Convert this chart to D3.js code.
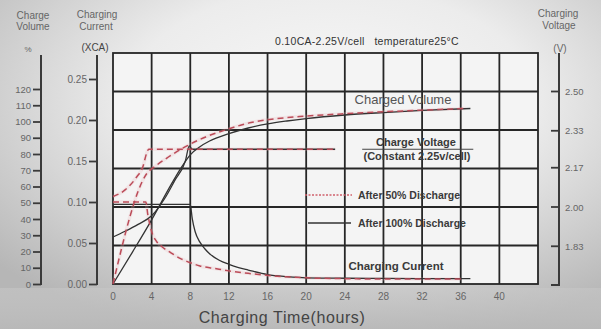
<!DOCTYPE html>
<html>
<head>
<meta charset="utf-8">
<script src="https://cdn.jsdelivr.net/npm/d3@7"></script>
<style>
  html, body { margin: 0; padding: 0; background: #e4e4e4; }
  svg { display: block; font-family: "Liberation Sans", Arial, sans-serif; }
</style>
</head>
<body>
<svg id="chart" width="601" height="329"></svg>
<script>
// values
const hourTicks = [0, 4, 8, 12, 16, 20, 24, 28, 32, 36, 40];
const volumeTicks = [0, 10, 20, 30, 40, 50, 60, 70, 80, 90, 100, 110, 120];
const currentTicks = [0, 0.05, 0.10, 0.15, 0.20, 0.25];
const voltageTicks = [1.83, 2.00, 2.17, 2.33, 2.50];

// after 100% discharge (solid)
const volHours100 = [0, 2, 4, 6, 7, 8, 9, 10, 12, 14, 16, 18, 20, 24, 28, 32, 37];
const volume100 = [0, 19.5, 39.5, 61, 71, 79.5, 84.5, 88, 92.5, 96, 98.5, 100.3, 101.8, 104, 105.5, 106.8, 108];
const voltHours100 = [0, 1.25, 2.6, 4, 5.4, 6.4, 7.5, 7.9, 8.2, 12, 16, 20, 23];
const voltage100 = [1.87, 1.895, 1.925, 1.962, 2.04, 2.115, 2.20, 2.265, 2.25, 2.25, 2.25, 2.25, 2.25];
const curHours100 = [0, 8, 8.2, 8.5, 9, 9.5, 10, 11, 12, 13, 14, 16, 18, 20, 24, 28, 32, 37];
const current100 = [0.097, 0.097, 0.08, 0.064, 0.051, 0.043, 0.037, 0.029, 0.024, 0.02, 0.017, 0.0115, 0.009, 0.0075, 0.007, 0.0068, 0.0066, 0.0065];

// after 50% discharge (dashed)
const volHours50 = [0, 3.5, 4.5, 5.7, 7.5, 9.6, 12, 14, 17, 20, 24, 28, 32, 36.5];
const volume50 = [0, 68, 73, 78, 84.5, 90.5, 95.5, 99, 101.8, 103.3, 104.8, 106, 107, 108];
const voltHours50 = [0, 1.25, 2.45, 3.1, 3.5, 3.7, 8, 12, 16, 20, 23];
const voltage50 = [2.045, 2.074, 2.13, 2.175, 2.235, 2.25, 2.25, 2.25, 2.25, 2.25, 2.25];
const curHours50 = [0, 3.4, 3.6, 4, 4.5, 5, 6, 7, 8, 9, 10.5, 12, 14, 17, 20, 24, 28, 32, 36];
const current50 = [0.10, 0.10, 0.085, 0.064, 0.052, 0.046, 0.038, 0.031, 0.026, 0.022, 0.019, 0.016, 0.013, 0.0095, 0.0075, 0.0065, 0.006, 0.006, 0.006];

const svg = d3.select("#chart");

// background
const defs = svg.append("defs");
const bg = defs.append("radialGradient").attr("id", "bg")
    .attr("cx", "55%").attr("cy", "30%").attr("r", "75%");
bg.append("stop").attr("offset", "0%").attr("stop-color", "#f8f8f8");
bg.append("stop").attr("offset", "45%").attr("stop-color", "#ececec");
bg.append("stop").attr("offset", "100%").attr("stop-color", "#b6b6b6");
svg.append("rect").attr("width", 601).attr("height", 329).attr("fill", "url(#bg)");

const bottom = defs.append("linearGradient").attr("id", "bottom")
    .attr("x1", 0).attr("y1", 0).attr("x2", 0).attr("y2", 1);
bottom.append("stop").attr("offset", "0%").attr("stop-color", "#c9c9c9").attr("stop-opacity", 0.5);
bottom.append("stop").attr("offset", "100%").attr("stop-color", "#b9b9b9").attr("stop-opacity", 0.85);
svg.append("rect").attr("y", 288).attr("width", 601).attr("height", 41).attr("fill", "url(#bottom)");

// scales
const x = d3.scaleLinear().domain([0, 44]).range([113, 538]);
const yVol = d3.scaleLinear().domain([0, 120]).range([284, 89]);
const yCur = d3.scaleLinear().domain([0, 0.25]).range([284, 79]);
const yVolt = d3.scaleLinear().domain([5 / 3, 8 / 3]).range([284, 53]);

// plot area + grid
svg.append("rect")
    .attr("x", x(0)).attr("y", yVolt(8 / 3))
    .attr("width", x(44) - x(0)).attr("height", yVolt(5 / 3) - yVolt(8 / 3))
    .attr("fill", "#f4f4f4");

const grid = svg.append("g").attr("stroke", "#262626").attr("stroke-width", 1.8);
grid.selectAll(".vg").data(d3.range(4, 44, 4)).enter().append("line")
    .attr("x1", d => x(d)).attr("x2", d => x(d))
    .attr("y1", yVolt(8 / 3)).attr("y2", yVolt(5 / 3));
grid.selectAll(".hg").data(d3.range(1, 6).map(i => 5 / 3 + i / 6)).enter().append("line")
    .attr("x1", x(0)).attr("x2", x(44))
    .attr("y1", d => yVolt(d)).attr("y2", d => yVolt(d));
grid.append("rect")
    .attr("x", x(0)).attr("y", yVolt(8 / 3))
    .attr("width", x(44) - x(0)).attr("height", yVolt(5 / 3) - yVolt(8 / 3))
    .attr("fill", "none");

// curves
const zip = (ts, vs) => ts.map((t, i) => [t, vs[i]]);
const lineFor = yScale => d3.line()
    .x(d => x(d[0])).y(d => yScale(d[1]))
    .curve(d3.curveMonotoneX);

const curves = svg.append("g").attr("fill", "none");

const dashed = [
    [zip(volHours50, volume50), yVol],
    [zip(voltHours50, voltage50), yVolt],
    [zip(curHours50, current50), yCur]
];
const solid = [
    [zip(volHours100, volume100), yVol],
    [zip(voltHours100, voltage100), yVolt],
    [zip(curHours100, current100), yCur]
];

dashed.forEach(([pts, ys]) => {
    curves.append("path").attr("d", lineFor(ys)(pts))
        .attr("stroke", "#eab0b8").attr("stroke-width", 3.5).attr("stroke-opacity", 0.22);
});
solid.forEach(([pts, ys]) => {
    curves.append("path").attr("d", lineFor(ys)(pts))
        .attr("stroke", "#333").attr("stroke-width", 1.3);
});
dashed.forEach(([pts, ys]) => {
    curves.append("path").attr("d", lineFor(ys)(pts))
        .attr("stroke", "#bb4b58").attr("stroke-width", 1.5)
        .attr("stroke-dasharray", "6,4");
});

// charge voltage label underline
svg.append("line")
    .attr("x1", x(25.8)).attr("x2", x(37.3))
    .attr("y1", yVolt(2.25)).attr("y2", yVolt(2.25))
    .attr("stroke", "#444").attr("stroke-width", 1);

// in-plot labels
const labels = svg.append("g").attr("text-anchor", "middle").attr("fill", "#3a3a3a");
labels.append("text").attr("x", 403).attr("y", 104)
    .attr("font-size", 13).attr("fill", "#555").text("Charged Volume");
labels.append("text").attr("x", 416).attr("y", 146)
    .attr("font-size", 11).attr("font-weight", "bold").text("Charge Voltage");
labels.append("text").attr("x", 417).attr("y", 160)
    .attr("font-size", 11).attr("font-weight", "bold").text("(Constant 2.25v/cell)");
labels.append("text").attr("x", 396).attr("y", 270)
    .attr("font-size", 11.5).attr("font-weight", "bold").text("Charging Current");

// legend
svg.append("line").attr("x1", 305).attr("x2", 352).attr("y1", 195).attr("y2", 195)
    .attr("stroke", "#d0606c").attr("stroke-width", 1.4).attr("stroke-dasharray", "2,1.5");
svg.append("line").attr("x1", 308).attr("x2", 351).attr("y1", 223).attr("y2", 223)
    .attr("stroke", "#333").attr("stroke-width", 1.3);
svg.append("text").attr("x", 358).attr("y", 199).attr("font-size", 10.5)
    .attr("font-weight", "bold").attr("fill", "#3a3a3a").text("After 50% Discharge");
svg.append("text").attr("x", 358).attr("y", 227).attr("font-size", 10.5)
    .attr("font-weight", "bold").attr("fill", "#3a3a3a").text("After 100% Discharge");

// title
svg.append("text").attr("x", 275).attr("y", 45).attr("font-size", 10.5)
    .attr("fill", "#333").attr("letter-spacing", 0.3)
    .text("0.10CA-2.25V/cell\u00a0\u00a0\u00a0temperature25\u00b0C");

// left axes
function leftAxis(xPos, scale, ticks, fmt, fontSize) {
    const g = svg.append("g").attr("transform", `translate(${xPos},0)`);
    g.call(d3.axisLeft(scale).tickValues(ticks).tickFormat(fmt)
        .tickSize(8).tickSizeOuter(0).tickPadding(2));
    g.select(".domain").remove();
    g.append("line").attr("x1", 0).attr("x2", 0).attr("y1", 55).attr("y2", 285)
        .attr("stroke", "#3a3a3a").attr("stroke-width", 2);
    g.selectAll(".tick line").attr("stroke", "#3a3a3a").attr("stroke-width", 1.8);
    g.selectAll(".tick text").attr("fill", "#666").attr("font-size", fontSize)
        .attr("font-family", "\"Liberation Sans\", Arial, sans-serif");
}
leftAxis(41, yVol, volumeTicks, d3.format("d"), 9.5);
leftAxis(97, yCur, currentTicks, d3.format(".2f"), 10);

// right voltage axis, ticks pointing in, labels outside
const right = svg.append("g").attr("stroke", "#3a3a3a").attr("stroke-width", 2);
right.append("path").attr("fill", "none")
    .attr("d", `M559,53 V285 H551`);
right.selectAll(".vt").data(voltageTicks).enter().append("line")
    .attr("x1", 551).attr("x2", 559)
    .attr("y1", d => yVolt(d)).attr("y2", d => yVolt(d)).attr("stroke-width", 1.8);
svg.selectAll(".vl").data(voltageTicks).enter().append("text")
    .attr("x", 565).attr("y", d => yVolt(d) + 3.5)
    .attr("font-size", 9.5).attr("fill", "#666")
    .text(d => d.toFixed(2));

// x tick labels
svg.selectAll(".xl").data(hourTicks).enter().append("text")
    .attr("x", d => x(d)).attr("y", 300).attr("text-anchor", "middle")
    .attr("font-size", 10).attr("fill", "#666").text(d => d);

svg.append("text").attr("x", 282).attr("y", 323).attr("text-anchor", "middle")
    .attr("font-size", 16).attr("letter-spacing", 0.6).attr("fill", "#444")
    .text("Charging Time(hours)");

// axis titles
const titles = svg.append("g").attr("text-anchor", "middle").attr("fill", "#666").attr("font-size", 10);
titles.append("text").attr("x", 33).attr("y", 19).text("Charge");
titles.append("text").attr("x", 33).attr("y", 30).text("Volume");
titles.append("text").attr("x", 28).attr("y", 52).attr("font-size", 8).text("%");
titles.append("text").attr("x", 97).attr("y", 18).text("Charging");
titles.append("text").attr("x", 96).attr("y", 30).text("Current");
titles.append("text").attr("x", 95).attr("y", 51).attr("fill", "#444").text("(XCA)");
titles.append("text").attr("x", 558).attr("y", 17).text("Charging");
titles.append("text").attr("x", 559).attr("y", 29).text("Voltage");
titles.append("text").attr("x", 560).attr("y", 52).text("(V)");
</script>
</body>
</html>
